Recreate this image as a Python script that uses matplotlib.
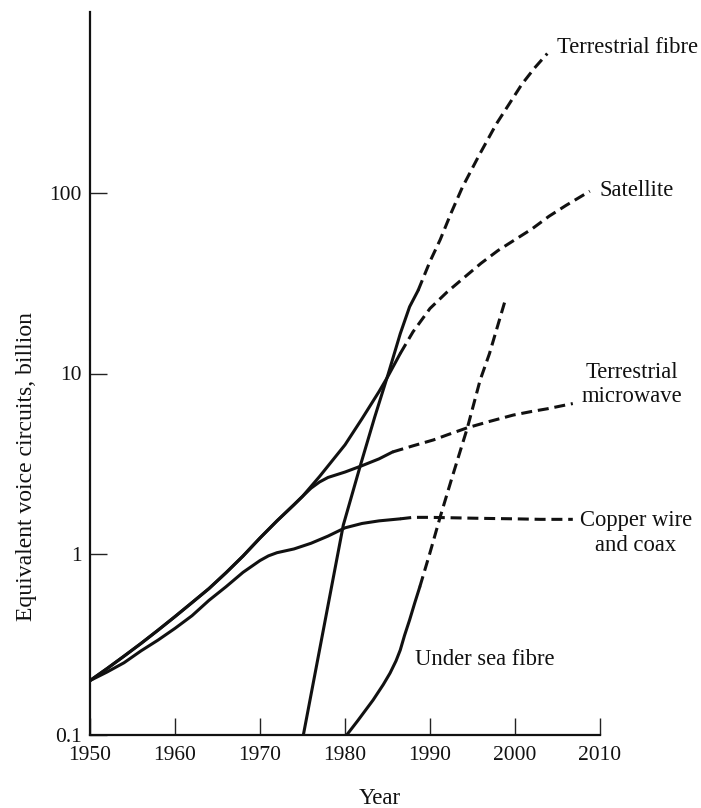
import matplotlib
matplotlib.use("Agg")
import matplotlib.pyplot as plt
from matplotlib.ticker import NullLocator

plt.rcParams['font.family'] = ['Liberation Serif', 'DejaVu Serif']

# values (billions of equivalent voice circuits)
# each series: years, values, and the index where the forecast (dashed) starts
sat_years = [1950, 1952, 1954, 1956, 1958, 1960, 1962, 1964, 1966, 1968, 1970,
             1972, 1974, 1975, 1977, 1980, 1982, 1984, 1985, 1986.5,
             1988, 1990, 1992, 1994, 1996, 1998, 2000, 2002, 2004, 2006, 2008.8]
sat_vals = [0.200, 0.233, 0.273, 0.321, 0.380, 0.452, 0.540, 0.646, 0.79, 0.977, 1.23,
            1.53, 1.88, 2.09, 2.69, 4.03, 5.62, 7.94, 9.55, 12.9,
            17.0, 22.9, 28.2, 33.9, 40.7, 47.9, 55.0, 63.1, 74.1, 85.1, 102]
sat_split = 19

mw_years = [1950, 1952, 1954, 1956, 1958, 1960, 1962, 1964, 1966, 1968, 1970,
            1972, 1974, 1975, 1976, 1977, 1978, 1980, 1982, 1984, 1985.6,
            1988, 1990.4, 1992, 1994.4, 1997, 1999.8, 2002, 2003.8, 2006.8]
mw_vals = [0.200, 0.233, 0.273, 0.321, 0.380, 0.452, 0.540, 0.646, 0.79, 0.977, 1.23,
           1.53, 1.88, 2.09, 2.32, 2.51, 2.66, 2.85, 3.09, 3.37, 3.68,
           3.98, 4.29, 4.57, 5.01, 5.43, 5.89, 6.17, 6.38, 6.82]
mw_split = 20

cu_years = [1950, 1952, 1954, 1956, 1958, 1960, 1962, 1964, 1966, 1968, 1970,
            1971, 1972, 1974, 1976, 1978, 1980, 1982, 1984, 1986.5,
            1988, 1990, 1993, 1996, 2000, 2003, 2006.8]
cu_vals = [0.200, 0.223, 0.251, 0.292, 0.335, 0.389, 0.457, 0.556, 0.661, 0.794, 0.923,
           0.98, 1.02, 1.07, 1.15, 1.26, 1.40, 1.48, 1.53, 1.57,
           1.60, 1.60, 1.59, 1.58, 1.57, 1.56, 1.56]
cu_split = 19

tf_years = [1975.1, 1977.4, 1979.8, 1981.8, 1983.5, 1985.1, 1986.5, 1987.6, 1988.6,
            1990, 1991.2, 1992.5, 1993.8, 1995.8, 1997.8, 1999.3, 2000.8, 2002.3, 2003.8]
tf_vals = [0.1, 0.37, 1.45, 3.09, 5.75, 10.0, 16.6, 23.4, 28.8,
           41.7, 55.0, 77.6, 107, 162, 240, 309, 398, 490, 589]
tf_split = 8

us_years = [1980.2, 1981.5, 1983.3, 1984.5, 1985.3, 1986, 1986.5, 1987, 1987.6,
            1988.2, 1988.8, 1990, 1991.2, 1992.5, 1994.4, 1995.9, 1997, 1998.9]
us_vals = [0.1, 0.12, 0.156, 0.19, 0.22, 0.257, 0.295, 0.355, 0.433,
           0.537, 0.66, 1.02, 1.61, 2.57, 5.01, 9.2, 12.9, 25.9]
us_split = 10

x_ticks = [1950, 1960, 1970, 1980, 1990, 2000, 2010]
y_ticks = [0.1, 1, 10, 100]
y_ticklabels = ['0.1', '1', '10', '100']

fig = plt.figure(figsize=(7.01, 8.08), dpi=100)
ax = fig.add_axes([90 / 701, 73 / 808, 510 / 701, 723 / 808])

lw = 2.2
ink = '#111111'
for yrs, vals, k in [(sat_years, sat_vals, sat_split),
                     (mw_years, mw_vals, mw_split),
                     (cu_years, cu_vals, cu_split),
                     (tf_years, tf_vals, tf_split),
                     (us_years, us_vals, us_split)]:
    ax.plot(yrs[:k + 1], vals[:k + 1], color=ink, lw=lw,
            solid_capstyle='round', solid_joinstyle='round')
    ax.plot(yrs[k:], vals[k:], color=ink, lw=lw, dashes=(3.6, 1.9),
            dash_joinstyle='round')

ax.set_yscale('log')
ax.set_xlim(1950, 2010)
ax.set_ylim(0.1, 1000)
ax.set_xticks(x_ticks)
ax.set_yticks(y_ticks)
ax.set_yticklabels(y_ticklabels)
ax.yaxis.set_minor_locator(NullLocator())
ax.xaxis.set_minor_locator(NullLocator())
ax.tick_params(axis='both', direction='in', length=12, width=1.0,
               labelsize=15.5, color='#222222', labelcolor='#111111')
ax.tick_params(axis='x', pad=8)
ax.tick_params(axis='y', pad=6)

for s in ['top', 'right']:
    ax.spines[s].set_visible(False)
for s in ['left', 'bottom']:
    ax.spines[s].set_linewidth(1.6)
    ax.spines[s].set_color(ink)

ax.set_xlabel('Year', fontsize=16.5, color=ink)
ax.xaxis.set_label_coords((380 - 90) / 510, -(799 - 735) / 723)
ax.xaxis.label.set_va('center')
ax.set_ylabel('Equivalent voice circuits, billion', fontsize=17, color=ink)
ax.yaxis.set_label_coords((27 - 90) / 510, (735 - 467) / 723)
ax.yaxis.label.set_va('center')

fs = 16.3
ax.text(2004.9, 640, 'Terrestrial fibre', fontsize=fs, ha='left', va='center', color=ink)
ax.text(2009.9, 103, 'Satellite', fontsize=fs, ha='left', va='center', color=ink)
ax.text(2013.8, 8.7, 'Terrestrial\nmicrowave', fontsize=fs, ha='center',
        va='center', linespacing=1.2, clip_on=False, color=ink)
ax.text(2014.2, 1.31, 'Copper wire\nand coax', fontsize=fs, ha='center',
        va='center', linespacing=1.2, clip_on=False, color=ink)
ax.text(1988.2, 0.26, 'Under sea fibre', fontsize=fs, ha='left', va='center', color=ink)

fig.savefig('out.png', dpi=100)
